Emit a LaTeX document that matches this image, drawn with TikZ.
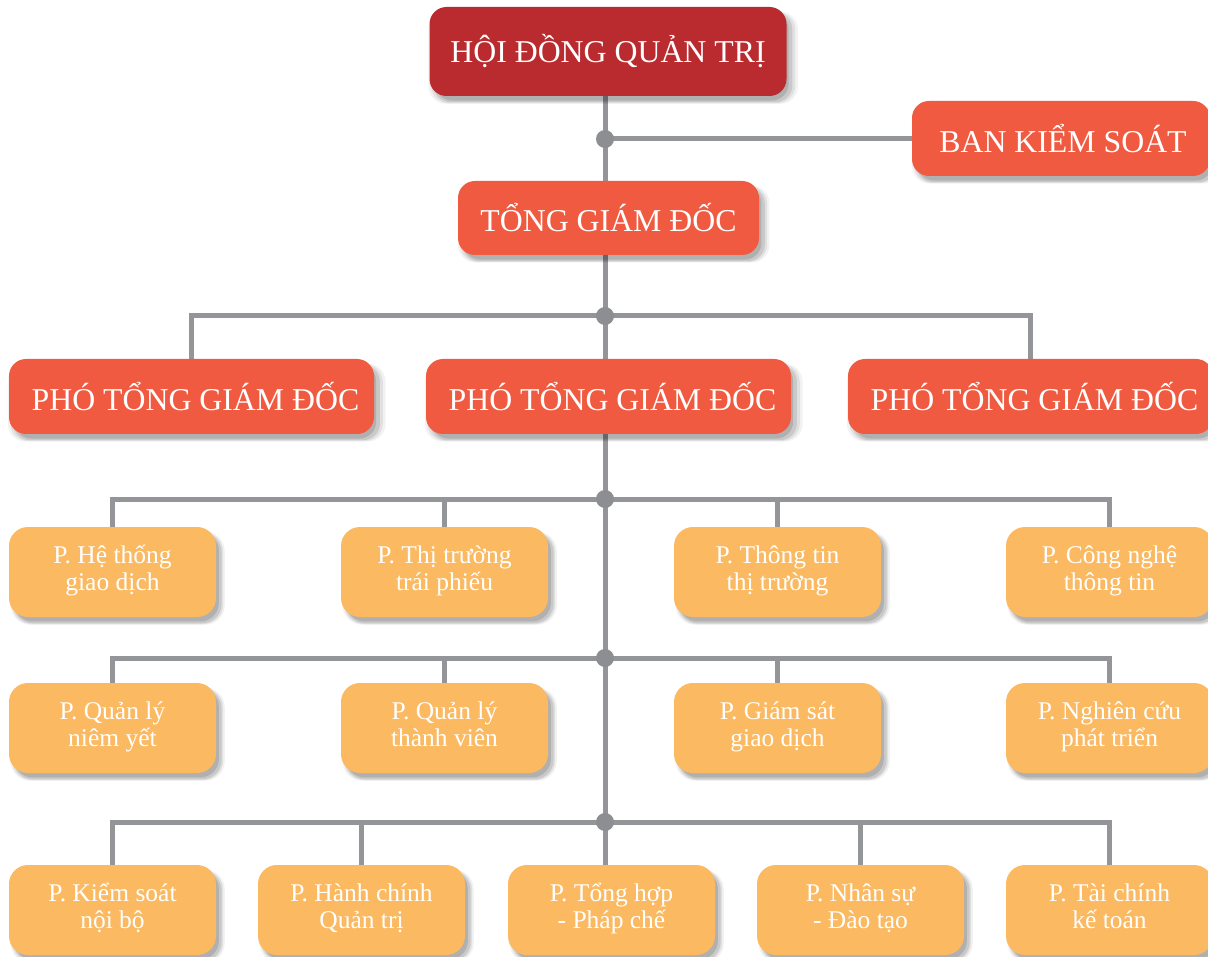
\documentclass[tikz,border=0pt]{standalone}
\usepackage{fontspec}
\setmainfont{Liberation Serif}
\usetikzlibrary{shadows}
\definecolor{darkred}{HTML}{B92B2E}
\definecolor{redor}{HTML}{F05A40}
\definecolor{lightor}{HTML}{FBB961}
\definecolor{linegray}{HTML}{939598}
\definecolor{dotgray}{HTML}{8C8E92}
\pgfdeclarelayer{bg}
\pgfdeclarelayer{paper}
\pgfsetlayers{paper,bg,main}
\newcommand{\tl}[2]{\strut #1\\\strut #2}
\tikzset{
  softshadow/.style={
    general shadow={fill=black, opacity=0.05, shadow xshift=5pt, shadow yshift=-6pt, shadow scale=1.035},
    general shadow={fill=black, opacity=0.07, shadow xshift=5pt, shadow yshift=-6pt, shadow scale=1.02},
    general shadow={fill=black, opacity=0.10, shadow xshift=5pt, shadow yshift=-6pt, shadow scale=1.005},
    general shadow={fill=black, opacity=0.12, shadow xshift=4pt, shadow yshift=-5pt, shadow scale=0.99}},
  boxbase/.style={rounded corners=17pt, text=white, align=center, inner sep=0pt, softshadow},
  topbox/.style={boxbase, fill=darkred, font=\fontsize{31.8}{34}\selectfont},
  bigbox/.style={boxbase, fill=redor, font=\fontsize{31.8}{34}\selectfont},
  smallbox/.style={boxbase, fill=lightor, rounded corners=19pt, minimum width=207pt, minimum height=90pt,
    font=\fontsize{25.5}{27}\selectfont},
  conn/.style={draw=linegray, line width=5pt},
  jdot/.style={circle, fill=dotgray, minimum size=18pt, inner sep=0pt}
}
\begin{document}
\begin{tikzpicture}[x=1pt,y=-1pt]
\begin{pgfonlayer}{paper}
\fill[white] (0,0) rectangle (1208,957);
\end{pgfonlayer}
\useasboundingbox (0,0) rectangle (1208,957);
% top
\node[topbox, minimum width=357pt, minimum height=89pt] (hdqt) at (608,51.5) {HỘI ĐỒNG QUẢN TRỊ};
\node[bigbox, minimum width=298pt, minimum height=75pt] (bks) at (1061,138.5) {\hspace{4pt}BAN KIỂM SOÁT};
\node[bigbox, minimum width=301pt, minimum height=74pt] (tgd) at (608.5,218) {TỔNG GIÁM ĐỐC};
% vice directors
\node[bigbox, minimum width=365pt, minimum height=75pt] (p1) at (191.5,396.5) {\hspace{8pt}PHÓ TỔNG GIÁM ĐỐC};
\node[bigbox, minimum width=365pt, minimum height=75pt] (p2) at (608.5,396.5) {\hspace{8pt}PHÓ TỔNG GIÁM ĐỐC};
\node[bigbox, minimum width=365pt, minimum height=75pt] (p3) at (1030.5,396.5) {\hspace{8pt}PHÓ TỔNG GIÁM ĐỐC};
% row 1
\node[smallbox] (a1) at (112.5,572) {\tl{P. Hệ thống}{giao dịch}};
\node[smallbox] (a2) at (444.5,572) {\tl{P. Thị trường}{trái phiếu}};
\node[smallbox] (a3) at (777.5,572) {\tl{P. Thông tin}{thị trường}};
\node[smallbox] (a4) at (1109.5,572) {\tl{P. Công nghệ}{thông tin}};
% row 2
\node[smallbox] (b1) at (112.5,728) {\tl{P. Quản lý}{niêm yết}};
\node[smallbox] (b2) at (444.5,728) {\tl{P. Quản lý}{thành viên}};
\node[smallbox] (b3) at (777.5,728) {\tl{P. Giám sát}{giao dịch}};
\node[smallbox] (b4) at (1109.5,728) {\tl{P. Nghiên cứu}{phát triển}};
% row 3
\node[smallbox] (c1) at (112.5,910) {\tl{P. Kiểm soát}{nội bộ}};
\node[smallbox] (c2) at (361.5,910) {\tl{P. Hành chính}{Quản trị}};
\node[smallbox] (c3) at (611.5,910) {\tl{P. Tổng hợp}{- Pháp chế}};
\node[smallbox] (c4) at (860.5,910) {\tl{P. Nhân sự}{- Đào tạo}};
\node[smallbox] (c5) at (1109.5,910) {\tl{P. Tài chính}{kế toán}};
% junction levels
\coordinate (t0) at (605,96);
\coordinate (y1) at (0,139);
\coordinate (y2) at (0,316);
\coordinate (y3) at (0,499);
\coordinate (y4) at (0,658);
\coordinate (y5) at (0,822);
\coordinate (j1) at (t0 |- y1);
\coordinate (j2) at (t0 |- y2);
\coordinate (j3) at (t0 |- y3);
\coordinate (j4) at (t0 |- y4);
\coordinate (j5) at (t0 |- y5);
\begin{pgfonlayer}{bg}
\draw[conn] (t0) -- (t0 |- c3.north);
\draw[conn] (j1) -- (j1 -| bks.west);
\draw[conn] (p1.north) |- (j2) -| (p3.north);
\draw[conn] (a1.north) |- (j3) -| (a4.north);
\draw[conn] (a2.north) -- (a2.north |- j3);
\draw[conn] (a3.north) -- (a3.north |- j3);
\draw[conn] (b1.north) |- (j4) -| (b4.north);
\draw[conn] (b2.north) -- (b2.north |- j4);
\draw[conn] (b3.north) -- (b3.north |- j4);
\draw[conn] (c1.north) |- (j5) -| (c5.north);
\draw[conn] (c2.north) -- (c2.north |- j5);
\draw[conn] (c4.north) -- (c4.north |- j5);
\end{pgfonlayer}
\node[jdot] (d1) at (j1) {};
\node[jdot] (d2) at (j2) {};
\node[jdot] (d3) at (j3) {};
\node[jdot] (d4) at (j4) {};
\node[jdot] (d5) at (j5) {};
\end{tikzpicture}
\end{document}
